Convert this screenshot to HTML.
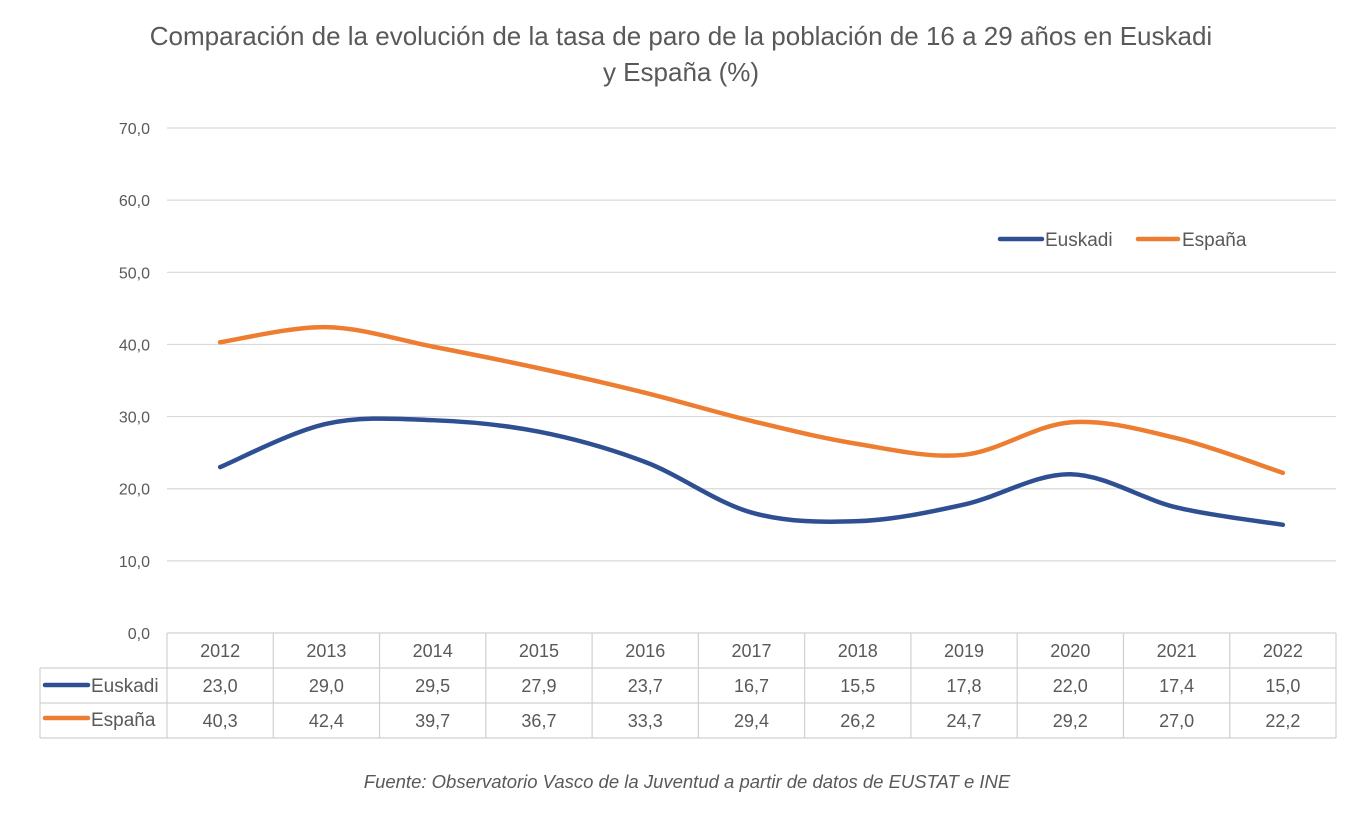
<!DOCTYPE html>
<html><head><meta charset="utf-8"><style>
body{margin:0;background:#fff;}
svg text{font-family:"Liberation Sans",sans-serif;fill:#595959;}
</style></head><body>
<svg id="s" width="1361" height="823" xmlns="http://www.w3.org/2000/svg">
<text x="681" y="45" font-size="26" text-anchor="middle">Comparación de la evolución de la tasa de paro de la población de 16 a 29 años en Euskadi</text>
<text x="681" y="81" font-size="26" text-anchor="middle">y España (%)</text>
<g id="grid"></g>
<g id="tbl"></g>
<path id="pE" fill="none" stroke="#2F4F93" stroke-width="4.5" stroke-linecap="round"/>
<path id="pS" fill="none" stroke="#ED7D31" stroke-width="4.5" stroke-linecap="round"/>
<line x1="1000" y1="239" x2="1042" y2="239" stroke="#2F4F93" stroke-width="4.5" stroke-linecap="round"/>
<text x="1045" y="246" font-size="19">Euskadi</text>
<line x1="1138" y1="239" x2="1178" y2="239" stroke="#ED7D31" stroke-width="4.5" stroke-linecap="round"/>
<text x="1182" y="246" font-size="19">España</text>
<text x="687" y="788" font-size="18.5" font-style="italic" text-anchor="middle">Fuente: Observatorio Vasco de la Juventud a partir de datos de EUSTAT e INE</text>
</svg>
<script>
var NS="http://www.w3.org/2000/svg";
function el(p,t,a,txt){var e=document.createElementNS(NS,t);for(var k in a)e.setAttribute(k,a[k]);if(txt!==undefined)e.textContent=txt;p.appendChild(e);return e;}
var g=document.getElementById('grid'),tb=document.getElementById('tbl');
var x0=167,x1=1336,y0=633,k=7.214;
for(var i=0;i<=7;i++){var y=y0-i*10*k;
 if(i>0)el(g,'line',{x1:x0,x2:x1,y1:y,y2:y,stroke:'#D9D9D9','stroke-width':1.2});
 el(g,'text',{x:150,y:y+6,'font-size':16,'text-anchor':'end'},(i*10)+',0');}
var yrs=[2012,2013,2014,2015,2016,2017,2018,2019,2020,2021,2022];
var E=[23.0,29.0,29.5,27.9,23.7,16.7,15.5,17.8,22.0,17.4,15.0];
var S=[40.3,42.4,39.7,36.7,33.3,29.4,26.2,24.7,29.2,27.0,22.2];
var cw=(x1-x0)/11;
var st={stroke:'#D0D0D0','stroke-width':1.2};
[633,668,703,738].forEach(function(y,j){el(tb,'line',Object.assign({x1:j==0?x0:40,x2:x1,y1:y,y2:y},st));});
el(tb,'line',Object.assign({x1:40,x2:40,y1:668,y2:738},st));
for(var i=0;i<=11;i++){var x=x0+i*cw;el(tb,'line',Object.assign({x1:x,x2:x,y1:633,y2:738},st));}
function f(v){return v.toFixed(1).replace('.',',');}
for(var i=0;i<11;i++){var cx=x0+cw*(i+0.5);
 el(tb,'text',{x:cx,y:657,'font-size':18,'text-anchor':'middle'},yrs[i]);
 el(tb,'text',{x:cx,y:692,'font-size':18,'text-anchor':'middle'},f(E[i]));
 el(tb,'text',{x:cx,y:727,'font-size':18,'text-anchor':'middle'},f(S[i]));}
el(tb,'line',{x1:45,x2:88,y1:685,y2:685,stroke:'#2F4F93','stroke-width':4.5,'stroke-linecap':'round'});
el(tb,'text',{x:91,y:692,'font-size':19},'Euskadi');
el(tb,'line',{x1:45,x2:88,y1:718,y2:718,stroke:'#ED7D31','stroke-width':4.5,'stroke-linecap':'round'});
el(tb,'text',{x:91,y:726,'font-size':19},'España');
function path(d){var p=d.map(function(v,i){return [x0+cw*(i+0.5),y0-v*k];});
 var s='M'+p[0][0]+','+p[0][1];
 for(var i=0;i<p.length-1;i++){var a=p[Math.max(0,i-1)],b=p[i],c=p[i+1],e=p[Math.min(p.length-1,i+2)];var t=6;
  s+=' C'+(b[0]+(c[0]-a[0])/t)+','+(b[1]+(c[1]-a[1])/t)+' '+(c[0]-(e[0]-b[0])/t)+','+(c[1]-(e[1]-b[1])/t)+' '+c[0]+','+c[1];}
 return s;}
document.getElementById('pE').setAttribute('d',path(E));
document.getElementById('pS').setAttribute('d',path(S));
</script>
</body></html>
